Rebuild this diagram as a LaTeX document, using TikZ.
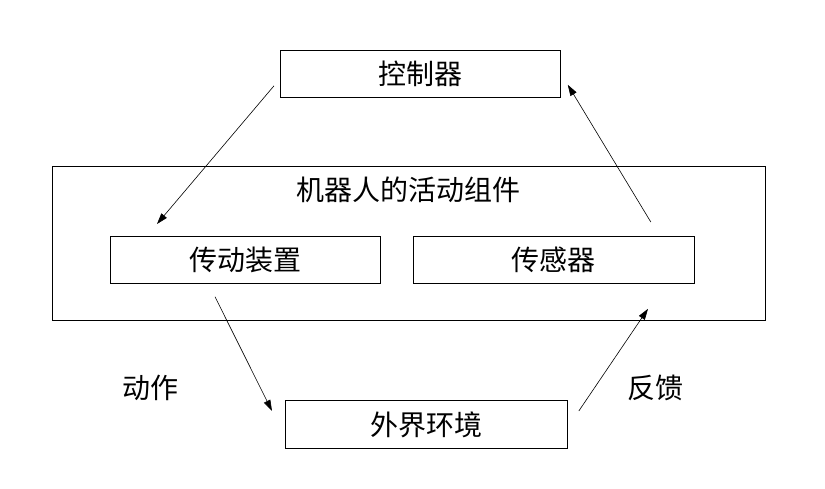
\documentclass[tikz,border=0pt]{standalone}
\usepackage{fontspec}
\newfontfamily\cjk{Noto Sans CJK SC}
\usetikzlibrary{arrows.meta}
\begin{document}
\begin{tikzpicture}[x=1pt,y=-1pt,
  box/.style={draw,line width=0.8pt,inner sep=0pt,anchor=north west},
  lbl/.style={font=\cjk\fontsize{28}{28}\selectfont},
  arr/.style={line width=0.6pt,-{Triangle[length=11pt,width=7pt]}}]
\useasboundingbox (0,0) rectangle (825,489);
\node[box,minimum width=280pt,minimum height=47pt] (ctrl) at (280,50) {};
\node[lbl] at (ctrl.center) {控制器};
\node[box,minimum width=713pt,minimum height=154pt] (robot) at (52,166) {};
\node[lbl] (robotlbl) at (408,190) {机器人的活动组件};
\node[box,minimum width=270pt,minimum height=47pt] (act) at (110,236) {};
\node[lbl] at (act.center) {传动装置};
\node[box,minimum width=281pt,minimum height=47pt] (sens) at (413,236) {};
\node[lbl] at (sens.center) {传感器};
\node[box,minimum width=282pt,minimum height=48pt] (env) at (285,400) {};
\node[lbl] at (env.center) {外界环境};
\node[lbl] (dz) at (150,388) {动作};
\node[lbl] (fk) at (655,388) {反馈};
\coordinate (c1) at ([shift={(-6,-12)}]ctrl.south west);
\coordinate (a1) at ([shift={(47,-12)}]act.north west);
\coordinate (s1) at ([shift={(-44,-14)}]sens.north east);
\coordinate (c2) at ([shift={(7,-13)}]ctrl.south east);
\coordinate (a2) at ([shift={(105,13)}]act.south west);
\coordinate (e1) at ([shift={(-13,11)}]env.north west);
\coordinate (e2) at ([shift={(11,11)}]env.north east);
\coordinate (s2) at ([shift={(235,25)}]sens.south west);
\draw[arr] (c1) -- (a1);
\draw[arr] (s1) -- (c2);
\draw[arr] (a2) -- (e1);
\draw[arr] (e2) -- (s2);
\end{tikzpicture}
\end{document}
